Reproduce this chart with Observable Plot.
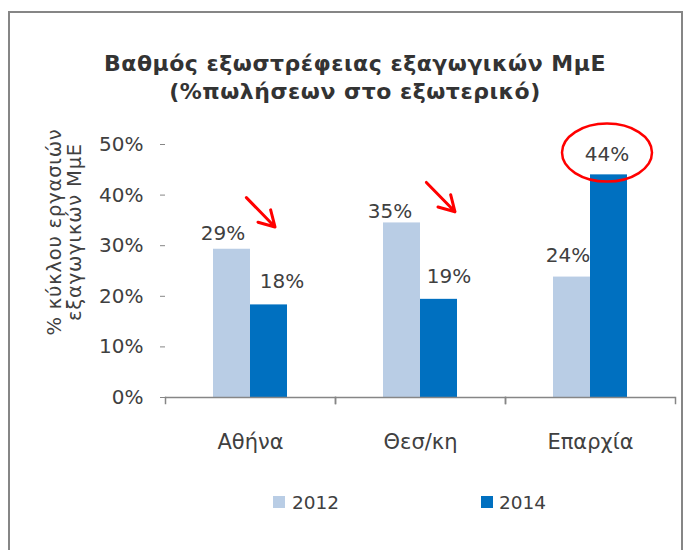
<!DOCTYPE html>
<html>
<head>
<meta charset="utf-8">
<script src="https://cdn.jsdelivr.net/npm/d3@7"></script>
<script src="https://cdn.jsdelivr.net/npm/@observablehq/plot@0.6"></script>
<style>
  html, body { margin: 0; padding: 0; background: #ffffff; }
  body { width: 689px; height: 550px; position: relative; overflow: hidden; font-family: "DejaVu Sans", sans-serif; color: #404040; }
  #border { position: absolute; left: 8px; top: 11px; width: 671px; height: 600px; border: 2px solid #868686; border-bottom: none; }
  #title { position: absolute; left: 0; top: 50px; width: 710px; text-align: center; font-weight: bold; font-size: 22px; letter-spacing: 0.5px; line-height: 28px; color: #333333; }
  #ylabel { position: absolute; width: 260px; height: 40px; left: -65px; top: 212px; transform: rotate(-90deg); text-align: center; font-size: 19.5px; letter-spacing: 0.8px; line-height: 20px; color: #404040; }
  #chart { position: absolute; left: 0; top: 120px; }
  .sw { position: absolute; width: 12px; height: 12px; top: 496px; }
  .lt { position: absolute; top: 492px; font-size: 18.5px; line-height: 22px; color: #404040; }
</style>
</head>
<body>
<div id="border"></div>
<div id="title"></div>
<div id="ylabel"></div>
<div id="chart"></div>
<div id="legend"></div>
<script>
// ---- data ----
const regions = ["Αθήνα", "Θεσ/κη", "Επαρχία"];
const years = ["2012", "2014"];
const values2012 = [0.293, 0.345, 0.238];
const values2014 = [0.183, 0.194, 0.44];
const seriesColors = ["#b9cde5", "#0070c0"];
const yTicks = [0, 0.1, 0.2, 0.3, 0.4, 0.5];
const titleLines = ["Βαθμός εξωστρέφειας εξαγωγικών ΜμΕ", "(%πωλήσεων στο εξωτερικό)"];
const yLabelLines = ["% κύκλου εργασιών", "εξαγωγικών ΜμΕ"];

// annotations (in data units)
const arrowNotes = [
  {region: "Αθήνα", from: "2012", to: "2014", y1: 0.412, y2: 0.337},
  {region: "Θεσ/κη", from: "2012", to: "2014", y1: 0.442, y2: 0.367}
];
const ellipseNote = [{region: "Επαρχία", year: "2014", value: 0.484}];

// ---- layout / style tweaks ----
const arrowDx = [6, 16];
const labelNudge = {
  "Αθήνα 2012": [-9, -9], "Αθήνα 2014": [13, -17],
  "Θεσ/κη 2012": [-12, -5], "Θεσ/κη 2014": [10, -16],
  "Επαρχία 2012": [-4, -15], "Επαρχία 2014": [-2, -14]
};

const table = [];
regions.forEach((r, i) => {
  table.push({region: r, year: years[0], value: values2012[i]});
  table.push({region: r, year: years[1], value: values2014[i]});
});

document.getElementById("title").innerHTML = titleLines.join("<br>");
document.getElementById("ylabel").innerHTML = yLabelLines.join("<br>");

const pct = d3.format(".0%");
const axisGray = "#868686";
const textGray = "#404040";

const ellipseSymbol = {
  draw(ctx) {
    const rx = 45, ry = 29, k = 0.5523;
    ctx.moveTo(rx, 0);
    ctx.bezierCurveTo(rx, k * ry, k * rx, ry, 0, ry);
    ctx.bezierCurveTo(-k * rx, ry, -rx, k * ry, -rx, 0);
    ctx.bezierCurveTo(-rx, -k * ry, -k * rx, -ry, 0, -ry);
    ctx.bezierCurveTo(k * rx, -ry, rx, -k * ry, rx, 0);
    ctx.closePath();
  }
};

const labelMarks = table.map(d => {
  const [dx, dy] = labelNudge[d.region + " " + d.year];
  return Plot.text([d], {
    fx: "region", x: "year", y: "value",
    text: v => pct(v.value), lineAnchor: "bottom",
    dx, dy, fill: textGray, fontSize: 20
  });
});

const arrowMarks = arrowNotes.map((a, i) => Plot.arrow([a], {
  fx: "region", x1: "from", x2: "to", y1: "y1", y2: "y2",
  dx: arrowDx[i], insetStart: 12, stroke: "#ff0000", strokeWidth: 3,
  headLength: 17, headAngle: 60
}));

const chart = Plot.plot({
  width: 689,
  height: 350,
  marginLeft: 165,
  marginRight: 14,
  marginTop: 24,
  marginBottom: 73,
  style: {fontFamily: "DejaVu Sans", fontSize: "20px", color: textGray, background: "transparent", overflow: "visible"},
  fx: {domain: regions, padding: 0, label: null},
  x: {domain: years, paddingInner: 0, paddingOuter: 1.237, axis: null},
  y: {domain: [0, 0.5], label: null},
  color: {domain: years, range: seriesColors},
  marks: [
    Plot.barY(table, {fx: "region", x: "year", y: "value", fill: "year"}),
    Plot.ruleY([0], {stroke: axisGray, strokeWidth: 1.5}),
    Plot.frame({anchor: "left", stroke: axisGray, strokeWidth: 1.5, insetTop: 253, insetBottom: -6}),
    Plot.frame({anchor: "right", stroke: axisGray, strokeWidth: 1.5, insetTop: 253, insetBottom: -6}),
    Plot.axisY({ticks: yTicks, tickFormat: pct, tickSize: 5, tickPadding: 17, line: true,
                stroke: axisGray, fill: textGray, label: null, fontSize: 20}),
    Plot.axisFx({anchor: "bottom", tickSize: 0, tickPadding: 37, label: null, fill: textGray, fontSize: 21}),
    ...labelMarks,
    ...arrowMarks,
    Plot.dot(ellipseNote, {fx: "region", x: "year", y: "value", symbol: ellipseSymbol, r: 10, dx: -2,
                           fill: "none", stroke: "#ff0000", strokeWidth: 2.5})
  ]
});
document.getElementById("chart").appendChild(chart);

// legend
const legend = document.getElementById("legend");
const legendX = [[273, 292], [481, 499]];
years.forEach((y, i) => {
  const sw = document.createElement("div");
  sw.className = "sw";
  sw.style.left = legendX[i][0] + "px";
  sw.style.background = seriesColors[i];
  legend.appendChild(sw);
  const t = document.createElement("div");
  t.className = "lt";
  t.style.left = legendX[i][1] + "px";
  t.textContent = y;
  legend.appendChild(t);
});
</script>
</body>
</html>
